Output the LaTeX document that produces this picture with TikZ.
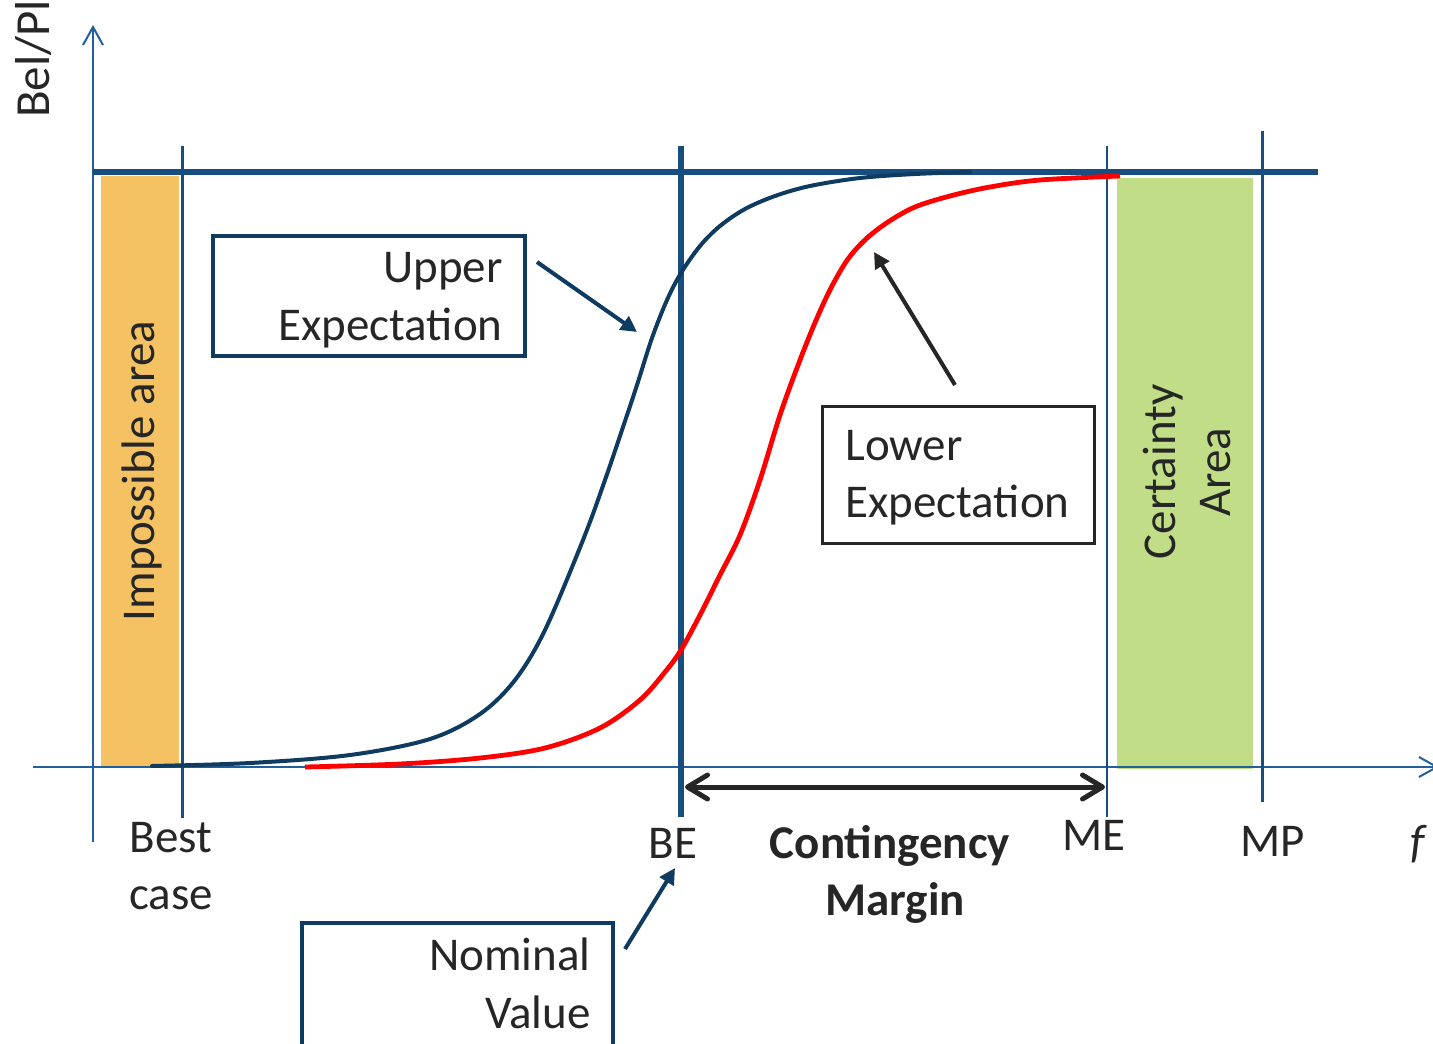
\documentclass[tikz,border=0pt]{standalone}
\usepackage{fontspec}
\setmainfont{Carlito}
\usetikzlibrary{arrows.meta}

\definecolor{axisblue}{HTML}{22609C}
\definecolor{gridblue}{HTML}{174E7F}
\definecolor{navy}{HTML}{0F3B60}
\definecolor{ink}{HTML}{262626}
\definecolor{impossible}{HTML}{F5C263}
\definecolor{certain}{HTML}{C2DD88}
\definecolor{curvered}{HTML}{FF0000}

\begin{document}
\begin{tikzpicture}[x=0.5pt,y=-0.5pt,
  lbl/.style={text=ink, font=\fontsize{23.5}{29}\selectfont, inner sep=0pt},
  boldlbl/.style={lbl, font=\fontsize{23.5}{29}\selectfont\bfseries},
  axisline/.style={draw=axisblue, line width=1pt, -{Straight Barb[length=9pt,width=10pt]}},
  marker/.style={draw=gridblue, line width=1.5pt},
  callout/.style={draw=#1, line width=2pt, inner sep=0pt, fill=none},
  pointer/.style={draw=#1, line width=2pt, -{Triangle[length=8pt,width=8pt]}},
  span/.style={draw=ink, line width=2.5pt, line cap=round,
    {Straight Barb[round,length=10pt,width=12pt]}-{Straight Barb[round,length=10pt,width=12pt]}},
]
\useasboundingbox (0,0) rectangle (1433,1043);
\clip (0,0) rectangle (1433,1043);

% shaded regions
\fill[impossible] (101,176) rectangle (179,767);
\fill[certain] (1117,178) rectangle (1253,769);

% axes
\coordinate (yfoot) at (93,842);
\coordinate (ytop) at (93,25);
\coordinate (xfoot) at (33,767);
\coordinate (xtip) at (1439,767);
\draw[axisline] (yfoot) -- (ytop);
\draw[axisline] (xfoot) -- (xtip);

% marker lines
\draw[marker] (182,146) -- (182,818);
\draw[marker, line width=3.2pt] (681,146) -- (681,817);
\draw[marker, line width=1.3pt] (1107,146) -- (1107,817);
\draw[marker] (1262,131) -- (1262,802);
\draw[draw=gridblue, line width=3pt] (93,172) -- (1318,172);

% upper and lower expectation curves
\draw[navy, line width=2pt, line cap=round] plot[smooth, tension=0.55] coordinates {
  (152,766) (250,763) (350,755) (430,739) (480,714) (515,680) (545,630)
  (583,540) (605,480) (622,430) (637,385) (652,338) (667,300) (681,273)
  (700,246) (720,226) (745,209) (775,196) (810,186) (860,178) (915,174) (970,172)};
\draw[curvered, line width=2.4pt] plot[smooth, tension=0.55] coordinates {
  (305,767) (400,764) (480,758) (545,748) (600,728) (640,700) (665,672)
  (681,650) (700,615) (720,575) (740,535) (760,480) (780,415) (800,360)
  (817,318) (832,286) (848,259) (866,239) (888,222) (915,207) (950,196)
  (990,187) (1040,180) (1120,176)};

% callout boxes
\node[callout=navy, minimum width=156pt, minimum height=60pt] (upperbox) at (369,296) {};
\node[callout=ink, line width=1.5pt, minimum width=136pt, minimum height=68.5pt] (lowerbox) at (958,474.5) {};
\node[callout=navy, line width=2.25pt, minimum width=155.5pt, minimum height=61.5pt] (nombox) at (457.5,984.5) {};

\node[lbl, anchor=base east] (uptxtA) at (503,282) {Upper};
\node[lbl, anchor=base east] (uptxtB) at (503,340) {Expectation};
\node[lbl, anchor=base west] (lowtxtA) at (845,460) {Lower};
\node[lbl, anchor=base west] (lowtxtB) at (845,517) {Expectation};
\node[lbl, anchor=base east] (nomtxtA) at (591,970) {Nominal};
\node[lbl, anchor=base east] (nomtxtB) at (591,1028) {Value};

% pointers
\coordinate (upTail) at (537,262);
\coordinate (upTip) at (637,332);
\coordinate (lowTail) at (955,385);
\coordinate (lowTip) at (874,252);
\coordinate (nomTail) at (625,949);
\coordinate (nomTip) at (675,868);
\draw[pointer=navy] (upTail) -- (upTip);
\draw[pointer=ink] (lowTail) -- (lowTip);
\draw[pointer=navy] (nomTail) -- (nomTip);

% contingency span
\coordinate (spanL) at (685,787);
\coordinate (spanR) at (1105,787);
\draw[span] (spanL) -- (spanR);

% axis labels
\node[lbl, anchor=base] (bestA) at (171,852) {Best};
\node[lbl, anchor=base] (bestB) at (171,909) {case};
\node[lbl, anchor=base] (be) at (673,858) {BE};
\node[lbl, anchor=base] (me) at (1094,850) {ME};
\node[lbl, anchor=base] (mp) at (1273,856) {MP};
\node[lbl, anchor=base] (fvar) at (1418,857) {\itshape f};
\node[boldlbl, anchor=base] (contA) at (890,858) {Contingency};
\node[boldlbl, anchor=base] (contB) at (895,915) {Margin};
\node[lbl, font=\fontsize{24.5}{29}\selectfont, rotate=90] (belpl) at (34,59) {Bel/Pl};

% region labels
\node[lbl, rotate=90] (imposs) at (142,471) {Impossible area};
\node[lbl, rotate=90, align=center, font=\fontsize{23.5}{27.5}\selectfont] (certa) at (1187,472) {Certainty\\Area};
\end{tikzpicture}
\end{document}
